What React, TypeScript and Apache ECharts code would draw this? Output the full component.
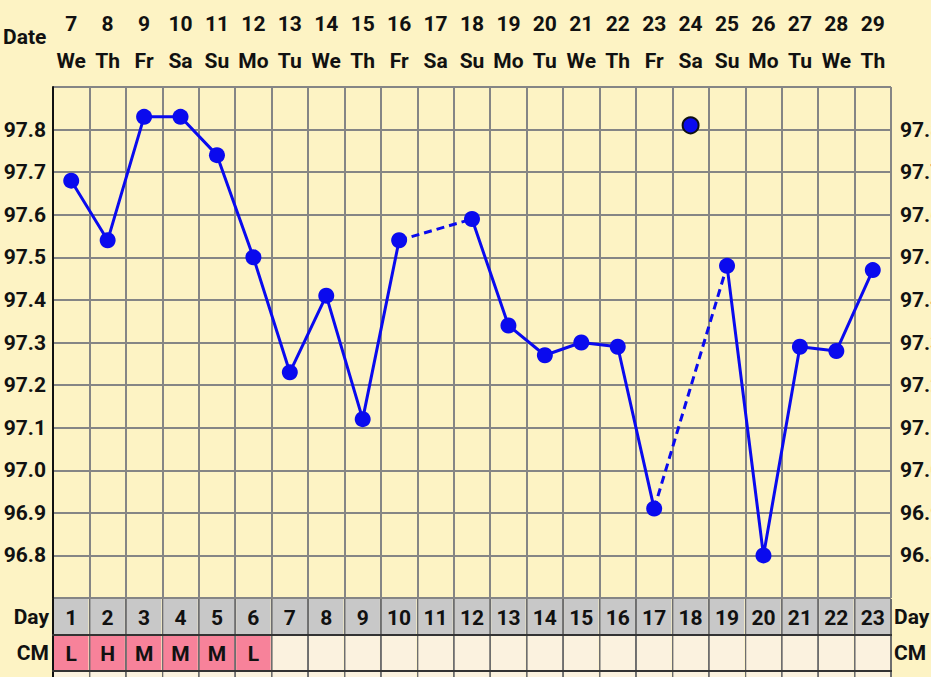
import React, { useEffect, useRef } from "react";
import * as echarts from "echarts";

const dates = ["7", "8", "9", "10", "11", "12", "13", "14", "15", "16", "17", "18", "19", "20", "21", "22", "23", "24", "25", "26", "27", "28", "29"];
const weekdays = ["We", "Th", "Fr", "Sa", "Su", "Mo", "Tu", "We", "Th", "Fr", "Sa", "Su", "Mo", "Tu", "We", "Th", "Fr", "Sa", "Su", "Mo", "Tu", "We", "Th"];
const cycleDays = ["1", "2", "3", "4", "5", "6", "7", "8", "9", "10", "11", "12", "13", "14", "15", "16", "17", "18", "19", "20", "21", "22", "23"];
const temps: (number | null)[] = [97.68, 97.54, 97.83, 97.83, 97.74, 97.5, 97.23, 97.41, 97.12, 97.54, null, 97.59, 97.34, 97.27, 97.3, 97.29, 96.91, null, 97.48, 96.8, 97.29, 97.28, 97.47];
const discardedDay = 18;
const discardedTemp = 97.81;
const cmValues = ["L", "H", "M", "M", "M", "L", "", "", "", "", "", "", "", "", "", "", "", "", "", "", "", "", ""];
const tableRows = ["Day", "CM", ""];
const yTicks = ["96.8", "96.9", "97.0", "97.1", "97.2", "97.3", "97.4", "97.5", "97.6", "97.7", "97.8"];

const BLUE = "#0a0aee";
const BG = "#fdf3c4";
const GRID = "#858585";
const FONT = "Roboto";

export default function App() {
  const ref = useRef<HTMLDivElement>(null);
  useEffect(() => {
    if (!ref.current) return;
    const chart = echarts.init(ref.current, null, { renderer: "svg" });

    // dashed bridges across missing days
    const bridges: (number | null)[][] = [];
    temps.forEach((t, i) => {
      if (t === null) {
        let a = i - 1;
        while (a >= 0 && temps[a] === null) a--;
        let b = i + 1;
        while (b < temps.length && temps[b] === null) b++;
        if (a >= 0 && b < temps.length) {
          const arr: (number | null)[] = temps.map(() => null);
          arr[a] = temps[a];
          arr[b] = temps[b];
          bridges.push(arr);
        }
      }
    });

    const cells: { x: number; y: number; text: string; fill: string }[] = [];
    cycleDays.forEach((d, i) => {
      cells.push({ x: i, y: 0, text: d, fill: "#c8c8c8" });
      cells.push({ x: i, y: 1, text: cmValues[i], fill: cmValues[i] ? "#f7829a" : "#fbf2df" });
      cells.push({ x: i, y: 2, text: "", fill: "#fbf2df" });
    });

    const labelStyle = { color: "#111", fontFamily: FONT, fontWeight: "bold" as const, fontSize: 21 };
    const yFmt = (v: number) => {
      const s = v.toFixed(1);
      return yTicks.indexOf(s) >= 0 ? s : "";
    };

    chart.setOption({
      animation: false,
      backgroundColor: BG,
      graphic: [
        {
          type: "text",
          left: 3,
          top: 26,
          style: { text: "Date", fill: "#111", font: `bold 21px ${FONT}` },
        },
      ],
      grid: [
        { left: 53, right: 40, top: 87, height: 511, outerBoundsMode: "none", containLabel: false },
        { left: 53, right: 40, top: 599, height: 108, outerBoundsMode: "none", containLabel: false },
      ],
      xAxis: [
        {
          type: "category",
          gridIndex: 0,
          position: "top",
          data: dates,
          boundaryGap: true,
          axisLine: { show: false },
          axisTick: { show: false },
          splitLine: { show: true, lineStyle: { color: GRID, width: 2 } },
          axisLabel: {
            interval: 0,
            margin: 8,
            formatter: (_v: string, i: number) => `{d|${dates[i]}}\n{w|${weekdays[i]}}`,
            rich: {
              d: { ...labelStyle, lineHeight: 37 },
              w: { ...labelStyle, lineHeight: 37 },
            },
          },
        },
        {
          type: "category",
          gridIndex: 1,
          data: cycleDays,
          boundaryGap: true,
          axisLine: { show: false },
          axisTick: { show: false },
          axisLabel: { show: false },
          splitLine: { show: true, lineStyle: { color: "#6e6e6e", width: 2 } },
        },
      ],
      yAxis: [
        {
          type: "value",
          gridIndex: 0,
          min: 96.7,
          max: 97.9,
          interval: 0.1,
          axisLine: { show: true, lineStyle: { color: "#111", width: 2 } },
          axisTick: { show: false },
          splitLine: { show: true, lineStyle: { color: GRID, width: 2 } },
          axisLabel: { ...labelStyle, margin: 7, formatter: yFmt },
        },
        {
          type: "value",
          gridIndex: 0,
          position: "right",
          min: 96.7,
          max: 97.9,
          interval: 0.1,
          axisLine: { show: false },
          axisTick: { show: false },
          splitLine: { show: false },
          axisLabel: { ...labelStyle, margin: 9, formatter: yFmt },
        },
        {
          type: "category",
          gridIndex: 1,
          data: tableRows,
          inverse: true,
          axisLine: { show: true, lineStyle: { color: "#111", width: 2 } },
          axisTick: { show: false },
          splitLine: { show: false },
          axisLabel: { ...labelStyle, margin: 4 },
        },
        {
          type: "category",
          gridIndex: 1,
          position: "right",
          data: tableRows,
          inverse: true,
          axisLine: { show: false },
          axisTick: { show: false },
          splitLine: { show: false },
          axisLabel: { ...labelStyle, margin: 3 },
        },
      ],
      series: [
        ...bridges.map((b) => ({
          type: "line",
          xAxisIndex: 0,
          yAxisIndex: 0,
          data: b,
          connectNulls: true,
          symbol: "none",
          lineStyle: { color: BLUE, width: 3, type: [8, 5] },
          z: 3,
        })),
        {
          type: "line",
          xAxisIndex: 0,
          yAxisIndex: 0,
          data: temps,
          connectNulls: false,
          symbol: "circle",
          symbolSize: 16,
          itemStyle: { color: BLUE },
          lineStyle: { color: BLUE, width: 3 },
          z: 4,
        },
        {
          type: "scatter",
          xAxisIndex: 0,
          yAxisIndex: 0,
          data: [[discardedDay - 1, discardedTemp]],
          symbolSize: 16,
          itemStyle: { color: BLUE, borderColor: "#111", borderWidth: 2, opacity: 1 },
          z: 4,
        },
        {
          type: "custom",
          xAxisIndex: 1,
          yAxisIndex: 2,
          data: cells.map((c) => [c.x, c.y]),
          encode: { x: 0, y: 1 },
          z: 1,
          renderItem: (params: any, api: any) => {
            const cell = cells[params.dataIndex];
            const c = api.coord([cell.x, cell.y]);
            const s = api.size([1, 1]);
            const w = s[0];
            const h = s[1];
            const left = c[0] - w / 2;
            const top = c[1] - h / 2;
            const children: any[] = [
              {
                type: "rect",
                shape: { x: left + 1, y: top, width: w - 2, height: h },
                style: { fill: cell.fill },
              },
            ];
            if (cell.y > 0) {
              children.push({
                type: "line",
                shape: { x1: left - 1, y1: top, x2: left + w + 1, y2: top },
                style: { stroke: "#333", lineWidth: 2 },
              });
            }
            if (cell.text) {
              children.push({
                type: "text",
                style: {
                  text: cell.text,
                  x: c[0],
                  y: c[1] + 1,
                  align: "center",
                  verticalAlign: "middle",
                  fill: "#111",
                  font: `bold 21px ${FONT}`,
                },
              });
            }
            return { type: "group", children };
          },
        },
      ],
    });
    return () => chart.dispose();
  }, []);
  return (
    <div
      ref={ref}
      style={{ position: "fixed", left: 0, top: 0, width: 931, height: 677, overflow: "hidden" }}
    />
  );
}
